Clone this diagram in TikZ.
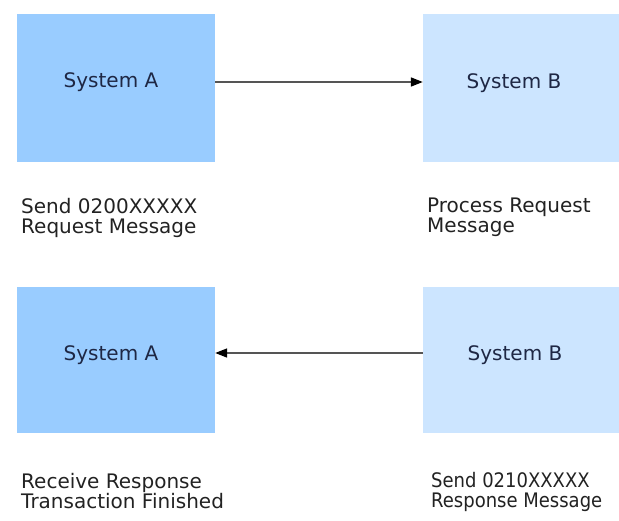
\documentclass[tikz,border=0pt]{standalone}
\usepackage{fontspec}
\setmainfont{DejaVu Sans}
\newfontfamily\narrowfont[FakeStretch=0.9]{DejaVu Sans}
\usetikzlibrary{arrows.meta}
\definecolor{boxA}{HTML}{99CCFF}
\definecolor{boxB}{HTML}{CCE5FF}
\definecolor{sysText}{HTML}{1E2744}
\definecolor{capText}{HTML}{222222}
\definecolor{lineGray}{HTML}{555555}
\tikzset{
  sysbox/.style={rectangle, draw=none, inner sep=0pt},
  boxa/.style={sysbox, fill=boxA},
  boxb/.style={sysbox, fill=boxB},
  systxt/.style={inner sep=0pt, anchor=base, text=sysText, font=\fontsize{20}{20}\selectfont},
  captxt/.style={inner sep=0pt, anchor=north west, align=left, text=capText, font=\fontsize{20}{20}\selectfont},
  flow/.style={draw=lineGray, line width=1.6pt, -{Triangle[length=12pt,width=9pt,fill=black,color=black]}}
}
\begin{document}
\begin{tikzpicture}[x=1pt,y=-1pt]
  \useasboundingbox (0,0) rectangle (619,520);
  % boxes
  \node[boxa, minimum width=198pt, minimum height=148pt] (a1) at (116,88) {};
  \node[boxb, minimum width=196pt, minimum height=148pt] (b1) at (521,88) {};
  \node[boxa, minimum width=198pt, minimum height=146pt] (a2) at (116,360) {};
  \node[boxb, minimum width=196pt, minimum height=146pt] (b2) at (521,360) {};
  % box labels
  \node[systxt] (ta1) at (111,87) {System A};
  \node[systxt] (tb1) at (514,88) {System B};
  \node[systxt] (ta2) at (111,360) {System A};
  \node[systxt] (tb2) at (515,360) {System B};
  % captions
  \node[captxt] (ca1) at (21,198) {Send 0200XXXXX\\Request Message};
  \node[captxt] (cb1) at (427,198) {Process Request\\Message};
  \node[captxt] (ca2) at (21,473) {Receive Response\\Transaction Finished};
  \node[captxt, font=\fontsize{20}{20}\narrowfont] (cb2) at (431,472) {Send 0210XXXXX\\Response Message};
  % connectors
  \draw[flow] ([yshift=6pt]a1.east) -- ([yshift=6pt]b1.west);
  \draw[flow] ([yshift=7pt]b2.west) -- ([yshift=7pt]a2.east);
\end{tikzpicture}
\end{document}
